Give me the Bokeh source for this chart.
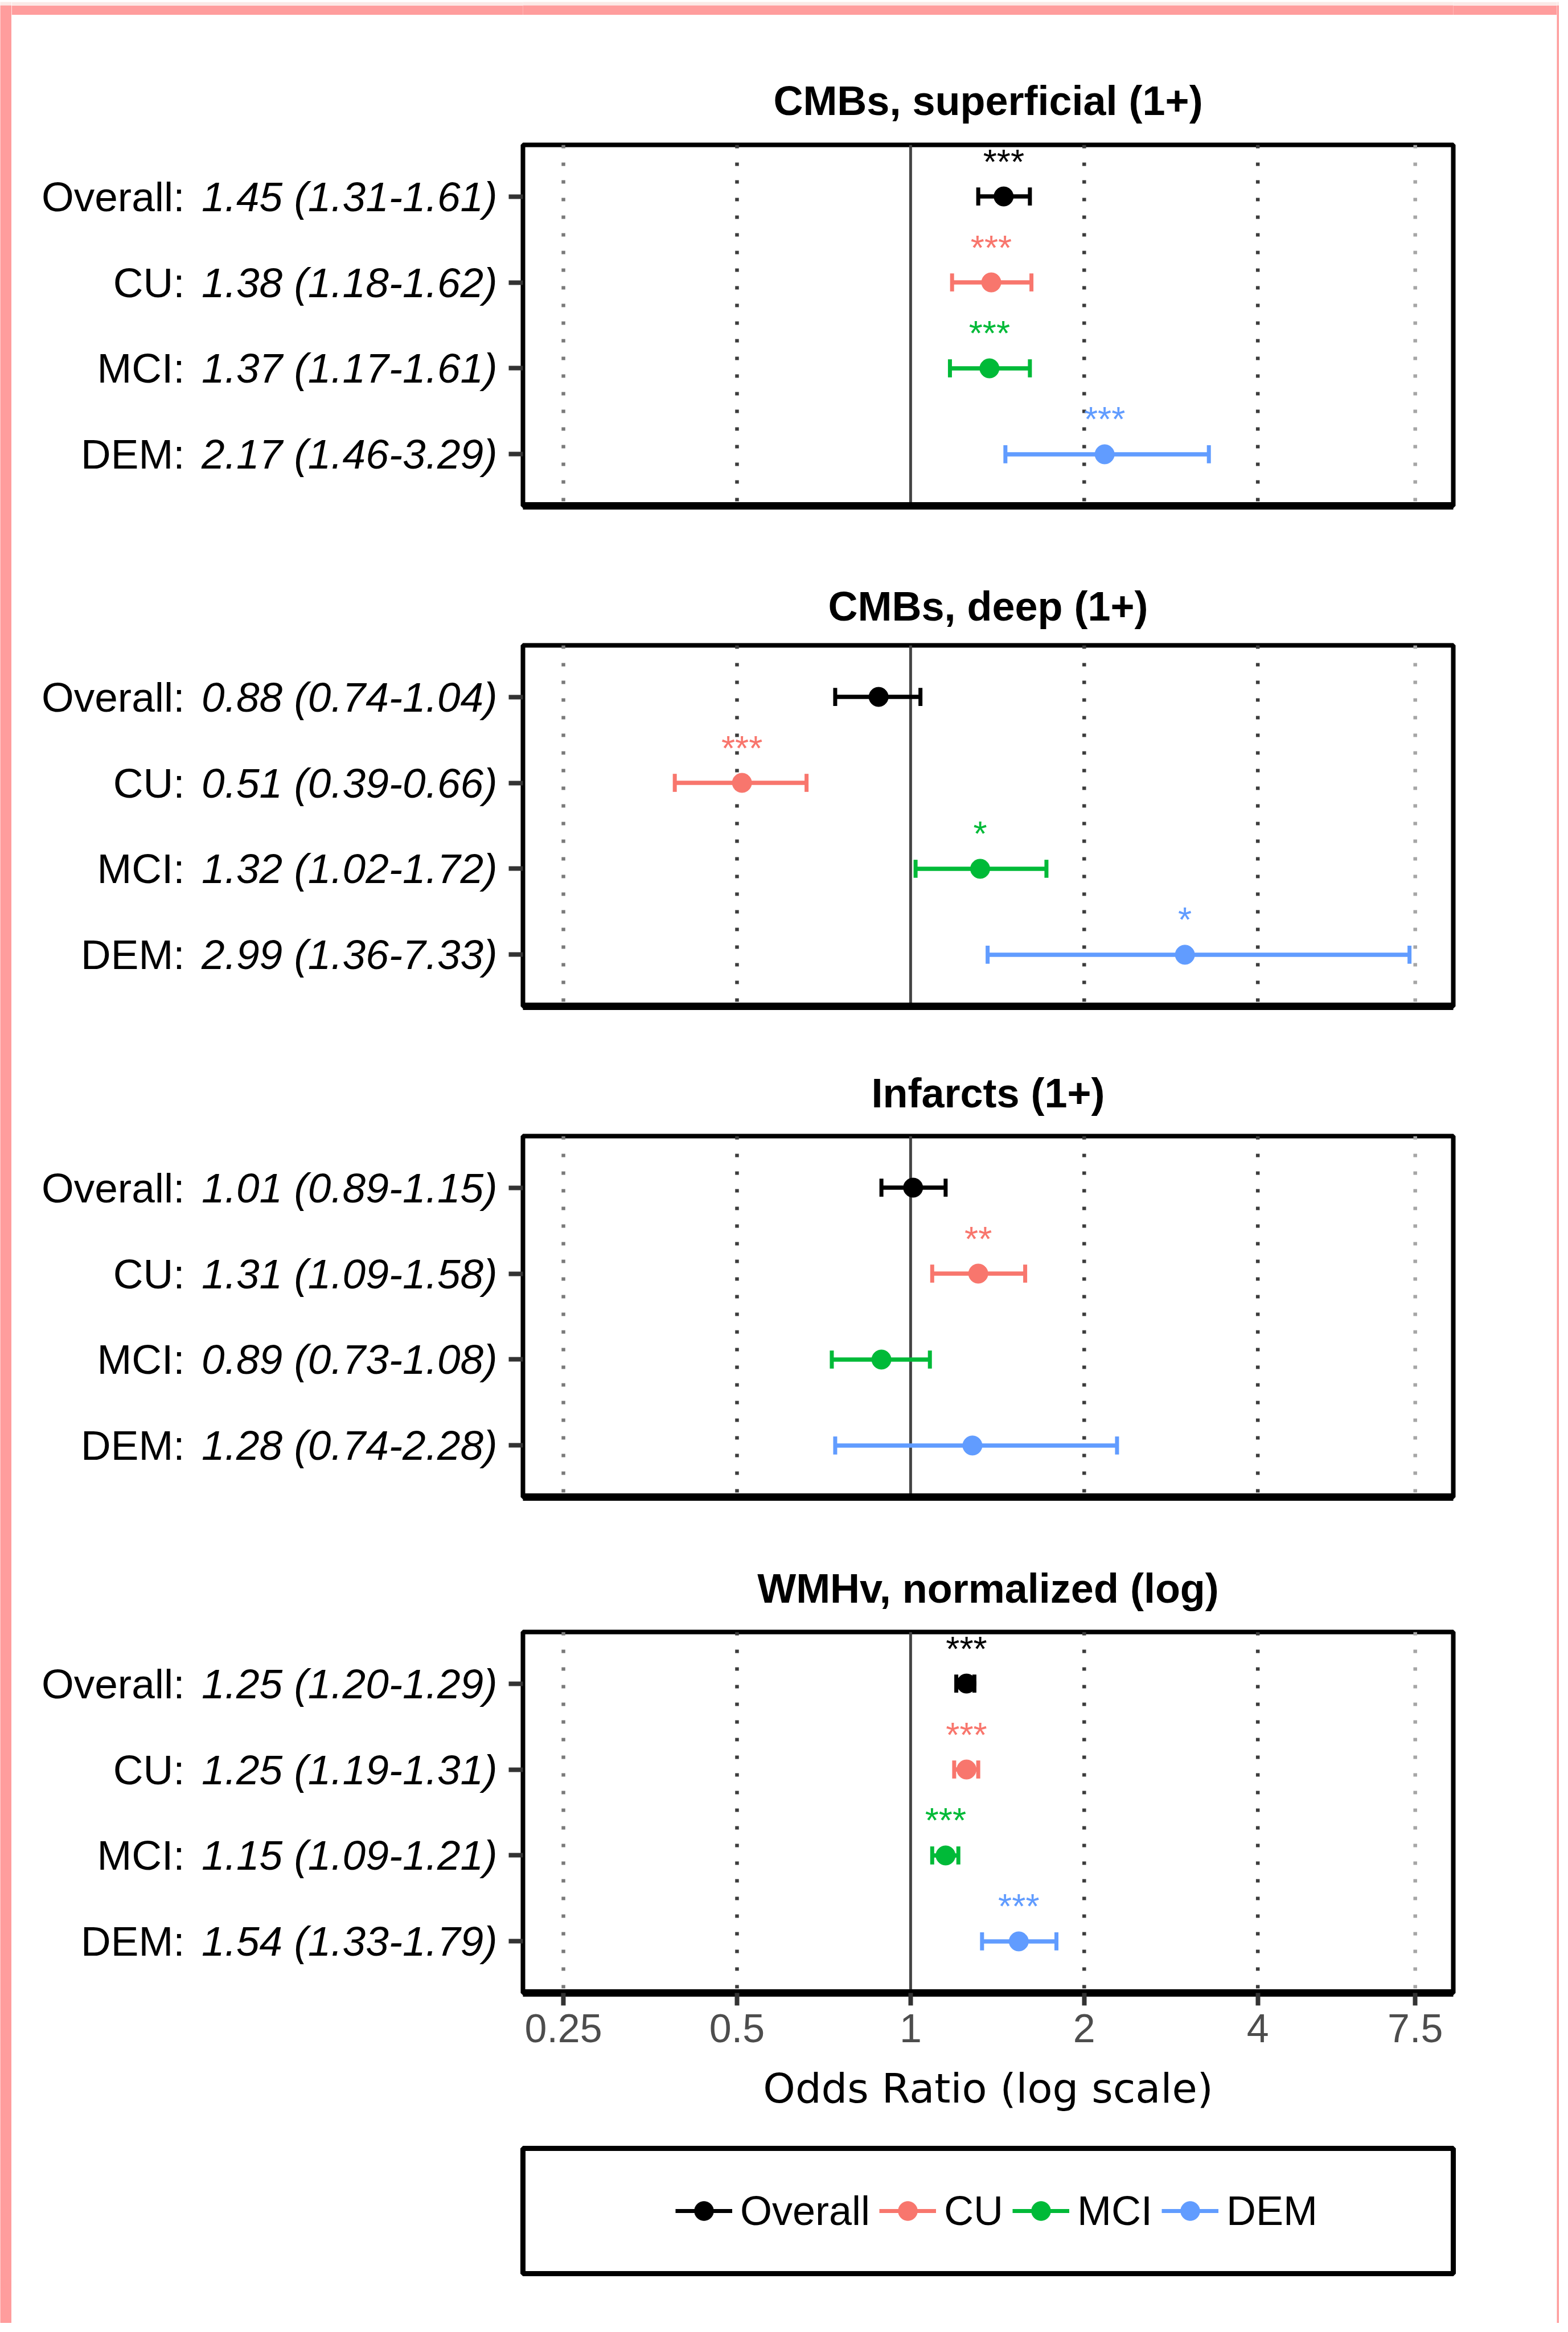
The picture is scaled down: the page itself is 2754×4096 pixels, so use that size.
import math
from bokeh.plotting import figure
from bokeh.models import (Range1d, FixedTicker, LinearAxis, Span, Legend, LegendItem,
                          CustomJSTickFormatter, ColumnDataSource)
from bokeh.layouts import row, column
from bokeh.core.properties import value
from bokeh.embed import file_html
from bokeh.resources import INLINE

# ---------------- data ----------------
groups = ["Overall", "CU", "MCI", "DEM"]
group_colors = ["#000000", "#F8766D", "#00BA38", "#619CFF"]
panel_titles = ["CMBs, superficial (1+)", "CMBs, deep (1+)", "Infarcts (1+)", "WMHv, normalized (log)"]

cmb_sup_or = [1.45, 1.38, 1.37, 2.17]
cmb_sup_lo = [1.31, 1.18, 1.17, 1.46]
cmb_sup_hi = [1.61, 1.62, 1.61, 3.29]
cmb_sup_sig = ["***", "***", "***", "***"]

cmb_deep_or = [0.88, 0.51, 1.32, 2.99]
cmb_deep_lo = [0.74, 0.39, 1.02, 1.36]
cmb_deep_hi = [1.04, 0.66, 1.72, 7.33]
cmb_deep_sig = ["", "***", "*", "*"]

infarct_or = [1.01, 1.31, 0.89, 1.28]
infarct_lo = [0.89, 1.09, 0.73, 0.74]
infarct_hi = [1.15, 1.58, 1.08, 2.28]
infarct_sig = ["", "**", "", ""]

wmh_or = [1.25, 1.25, 1.15, 1.54]
wmh_lo = [1.20, 1.19, 1.09, 1.33]
wmh_hi = [1.29, 1.31, 1.21, 1.79]
wmh_sig = ["***", "***", "***", "***"]

x_ticks = [0.25, 0.5, 1, 2, 4, 7.5]
x_axis_title = "Odds Ratio (log scale)"

# ---------------- layout / style ----------------
PINK = "#FF9D9D"
LIGHT = "#FBE9E6"
FONT = "Liberation Sans"
W_COL = 2714
ML, MR = 898, 182
X0, X1 = 0.2127, 8.73
ROW_Y = [4, 3, 2, 1]

def base_fig(w, h, **kw):
    f = figure(width=w, height=h, toolbar_location=None, tools="", output_backend="svg", **kw)
    f.border_fill_color = "white"
    f.background_fill_color = "white"
    return f

def strip(w, h, color):
    s = figure(width=w, height=h, x_range=Range1d(0, 1), y_range=Range1d(0, 1),
               min_border_left=0, min_border_right=0, min_border_top=0, min_border_bottom=0,
               x_axis_location=None, y_axis_location=None, toolbar_location=None, tools="",
               output_backend="svg")
    s.background_fill_color = color
    s.border_fill_color = color
    s.outline_line_color = None
    s.grid.visible = False
    return s

def title_fig(text, h, center_from_top):
    t = base_fig(W_COL, h, x_range=Range1d(0, 1), y_range=Range1d(0, h),
                 min_border_left=ML, min_border_right=MR, min_border_top=0, min_border_bottom=0,
                 x_axis_location=None, y_axis_location=None)
    t.outline_line_color = None
    t.grid.visible = False
    src = ColumnDataSource(dict(x=[0.5], y=[h - center_from_top], t=[text]))
    t.text(x="x", y="y", text="t", source=src, text_font=value(FONT), text_font_style="bold",
           text_font_size="72px", text_color="black", text_align="center", text_baseline="middle")
    return t

def panel(ors, los, his, sigs, h, mbt, mbb, last):
    p = base_fig(W_COL, h, x_axis_type="log", x_range=Range1d(X0, X1), y_range=Range1d(0.4, 4.6),
                 min_border_left=ML, min_border_right=MR, min_border_top=mbt, min_border_bottom=mbb)
    p.grid.visible = False
    p.outline_line_color = "black"
    p.outline_line_width = 8

    for t in x_ticks:
        if t == 1:
            sp = Span(location=t, dimension="height", line_color="#444444", line_width=5, level="underlay")
        else:
            col = "#3C3C3C" if t in (0.5, 2, 4) else ("#7A7A7A" if t == 0.25 else "#A6A6A6")
            sp = Span(location=t, dimension="height", line_color=col, line_width=6.5,
                      line_dash="6 25", level="underlay")
        p.add_layout(sp)

    src = ColumnDataSource(dict(
        o=ors, lo=los, hi=his, y=ROW_Y, ylo=[y - 0.105 for y in ROW_Y], yhi=[y + 0.105 for y in ROW_Y],
        c=group_colors, sig=sigs))
    p.segment(x0="lo", y0="y", x1="hi", y1="y", source=src, line_color="c", line_width=7.5)
    p.segment(x0="lo", y0="ylo", x1="lo", y1="yhi", source=src, line_color="c", line_width=7)
    p.segment(x0="hi", y0="ylo", x1="hi", y1="yhi", source=src, line_color="c", line_width=7)
    p.scatter(x="o", y="y", source=src, size=34, fill_color="c", line_color="c", line_width=1)
    p.text(x="o", y="y", text="sig", source=src, text_color="c", text_font=value(FONT),
           text_font_size="62px", text_align="center", text_baseline="alphabetic", y_offset=-62)

    ital = [f"{o:.2f} ({l:.2f}-{u:.2f})" for o, l, u in zip(ors, los, his)]
    names = [f"{g}:" for g in groups]

    yin = p.yaxis[0]
    yin.ticker = FixedTicker(ticks=ROW_Y)
    yin.major_label_overrides = {y: s for y, s in zip(ROW_Y, ital)}
    yin.major_label_text_font = FONT
    yin.major_label_text_font_style = "italic"
    yin.major_label_text_font_size = "73px"
    yin.major_label_text_color = "black"
    yin.major_label_standoff = 20
    yin.major_tick_out = 25
    yin.major_tick_in = 0
    yin.major_tick_line_width = 8
    yin.major_tick_line_color = "#333333"
    yin.minor_tick_line_color = None
    yin.axis_line_color = None

    yout = LinearAxis(ticker=FixedTicker(ticks=ROW_Y),
                      major_label_overrides={y: s for y, s in zip(ROW_Y, names)})
    yout.major_label_text_font = FONT
    yout.major_label_text_font_size = "73px"
    yout.major_label_text_color = "black"
    yout.major_label_standoff = 27
    yout.major_tick_out = 0
    yout.major_tick_in = 0
    yout.major_tick_line_color = None
    yout.minor_tick_line_color = None
    yout.axis_line_color = None
    p.add_layout(yout, "left")

    xa = p.xaxis[0]
    xa.axis_line_color = "black"
    xa.axis_line_width = 13
    xa.minor_tick_line_color = None
    xa.minor_tick_out = 0
    xa.minor_tick_in = 0
    if last:
        xa.ticker = FixedTicker(ticks=x_ticks)
        xa.formatter = CustomJSTickFormatter(code="return tick.toString();")
        xa.major_tick_out = 22
        xa.major_tick_in = 0
        xa.major_tick_line_width = 8
        xa.major_tick_line_color = "#333333"
        xa.major_label_text_font = FONT
        xa.major_label_text_font_size = "70px"
        xa.major_label_text_color = "#4D4D4D"
        xa.major_label_standoff = 15
        xa.axis_label = x_axis_title
        xa.axis_label_text_font = "DejaVu Sans"
        xa.axis_label_text_font_size = "72px"
        xa.axis_label_text_font_style = "normal"
        xa.axis_label_text_color = "black"
        xa.axis_label_standoff = 36
    else:
        xa.ticker = FixedTicker(ticks=[])
        xa.major_tick_out = 0
        xa.major_tick_in = 0
        xa.major_tick_line_color = None
        xa.major_label_text_font_size = "0px"
    return p

t1 = title_fig(panel_titles[0], 218, 150)
f1 = panel(cmb_sup_or, cmb_sup_lo, cmb_sup_hi, cmb_sup_sig, 703, 10, 59, False)
t2 = title_fig(panel_titles[1], 176, 117)
f2 = panel(cmb_deep_or, cmb_deep_lo, cmb_deep_hi, cmb_deep_sig, 704, 10, 60, False)
t3 = title_fig(panel_titles[2], 158, 92)
f3 = panel(infarct_or, infarct_lo, infarct_hi, infarct_sig, 702, 10, 58, False)
t4 = title_fig(panel_titles[3], 169, 102)
f4 = panel(wmh_or, wmh_lo, wmh_hi, wmh_sig, 890, 10, 246, True)

# legend panel
lf = base_fig(W_COL, 334, x_range=Range1d(0, 1), y_range=Range1d(0, 1),
              min_border_left=ML, min_border_right=MR, min_border_top=27, min_border_bottom=87,
              x_axis_location=None, y_axis_location=None)
lf.grid.visible = False
lf.outline_line_color = "black"
lf.outline_line_width = 9
items = []
for g, c in zip(groups, group_colors):
    s = ColumnDataSource(dict(x=[float("nan")], y=[float("nan")]))
    lr = lf.line(x="x", y="y", source=s, line_color=c, line_width=7)
    sr = lf.scatter(x="x", y="y", source=s, size=33, fill_color=c, line_color=c)
    items.append(LegendItem(label=g, renderers=[lr, sr]))
legend = Legend(items=items, orientation="horizontal", location=(268, 68),
                glyph_width=100, glyph_height=84, label_standoff=14, spacing=16,
                padding=0, margin=0, border_line_color=None, background_fill_alpha=0,
                label_text_font=FONT, label_text_font_size="72px", label_text_color="black")
lf.add_layout(legend, "center")

left_col = column(strip(20, 9, LIGHT), strip(20, 4071, PINK), spacing=0)
right_col = column(strip(4, 9, LIGHT), strip(4, 4071, PINK), spacing=0)
mid_col = column(strip(W_COL, 9, LIGHT), strip(W_COL, 17, PINK),
                 t1, f1, t2, f2, t3, f3, t4, f4, lf, spacing=0)

layout = row(left_col, mid_col, right_col, spacing=0)

open("out.html", "w").write(file_html(layout, INLINE))
